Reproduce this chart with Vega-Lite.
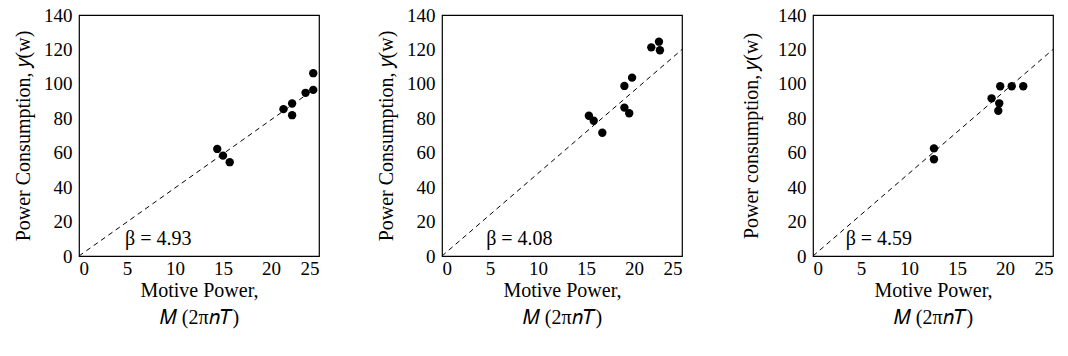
{
  "$schema": "https://vega.github.io/schema/vega-lite/v6.json",
  "padding": {"left": 12, "top": 5, "right": 5, "bottom": 5},
  "background": "white",
  "spacing": 55,
  "config": {
    "font": "'Liberation Serif', serif",
    "view": {"stroke": "black", "strokeWidth": 1.2},
    "text": {"font": "'Liberation Serif', serif"},
    "axis": {
      "grid": false, "ticks": false, "domain": false,
      "labelFontSize": 19, "labelColor": "black", "labelFont": "'Liberation Serif', serif",
      "titleFontSize": 20, "titleFontWeight": "normal", "titleColor": "black", "titleFont": "'Liberation Serif', serif"
    },
    "axisX": {"labelPadding": 3, "titlePadding": 2, "titleLineHeight": 27},
    "axisY": {"labelPadding": 7, "titlePadding": 10}
  },
  "datasets": {
    "p1": [
      {"M": 14.4, "y": 62.2}, {"M": 15.0, "y": 58.3}, {"M": 15.7, "y": 54.5},
      {"M": 21.3, "y": 85.3}, {"M": 22.2, "y": 88.6}, {"M": 22.2, "y": 81.8},
      {"M": 23.6, "y": 94.8}, {"M": 24.4, "y": 96.5}, {"M": 24.4, "y": 106.2}
    ],
    "p2": [
      {"M": 15.3, "y": 81.5}, {"M": 15.8, "y": 78.6}, {"M": 16.7, "y": 71.6},
      {"M": 19.0, "y": 98.8}, {"M": 19.0, "y": 86.2}, {"M": 19.5, "y": 82.9},
      {"M": 19.8, "y": 103.6}, {"M": 21.8, "y": 121.2}, {"M": 22.6, "y": 124.5},
      {"M": 22.7, "y": 119.5}
    ],
    "p3": [
      {"M": 12.6, "y": 62.5}, {"M": 12.6, "y": 56.2}, {"M": 18.6, "y": 91.6},
      {"M": 19.4, "y": 88.7}, {"M": 19.3, "y": 84.4}, {"M": 19.5, "y": 98.6},
      {"M": 20.7, "y": 98.6}, {"M": 21.9, "y": 98.6}
    ],
    "l1": [{"M": 0, "y": 0}, {"M": 24.4, "y": 96.5}],
    "l2": [{"M": 0, "y": 0}, {"M": 25, "y": 120}],
    "l3": [{"M": 0, "y": 0}, {"M": 25, "y": 120}],
    "t1": [{"M": 4.8, "y": 10, "label": "β = 4.93"}],
    "t2": [{"M": 4.6, "y": 10, "label": "β = 4.08"}],
    "t3": [{"M": 3.4, "y": 10, "label": "β = 4.59"}]
  },
  "hconcat": [
    {
      "width": 240, "height": 241,
      "encoding": {
        "x": {"field": "M", "type": "quantitative", "scale": {"domain": [0, 25], "nice": false}, "axis": {"values": [0, 5, 10, 15, 20, 25], "title": ["Motive Power,", "𝑀 (2π𝑛𝑇)"]}},
        "y": {"field": "y", "type": "quantitative", "scale": {"domain": [0, 140], "nice": false}, "axis": {"values": [0, 20, 40, 60, 80, 100, 120, 140], "title": "Power Consumption, 𝑦(w)"}}
      },
      "layer": [
        {"data": {"name": "l1"}, "mark": {"type": "line", "color": "black", "strokeWidth": 1, "strokeDash": [5, 4]}},
        {"data": {"name": "p1"}, "mark": {"type": "circle", "color": "black", "size": 70, "opacity": 1}},
        {"data": {"name": "t1"}, "mark": {"type": "text", "align": "left", "baseline": "middle", "fontSize": 20, "color": "black"}, "encoding": {"text": {"field": "label"}}}
      ]
    },
    {
      "width": 240, "height": 241,
      "encoding": {
        "x": {"field": "M", "type": "quantitative", "scale": {"domain": [0, 25], "nice": false}, "axis": {"values": [0, 5, 10, 15, 20, 25], "title": ["Motive Power,", "𝑀 (2π𝑛𝑇)"]}},
        "y": {"field": "y", "type": "quantitative", "scale": {"domain": [0, 140], "nice": false}, "axis": {"values": [0, 20, 40, 60, 80, 100, 120, 140], "title": "Power Consumption, 𝑦(w)"}}
      },
      "layer": [
        {"data": {"name": "l2"}, "mark": {"type": "line", "color": "black", "strokeWidth": 1, "strokeDash": [5, 4]}},
        {"data": {"name": "p2"}, "mark": {"type": "circle", "color": "black", "size": 70, "opacity": 1}},
        {"data": {"name": "t2"}, "mark": {"type": "text", "align": "left", "baseline": "middle", "fontSize": 20, "color": "black"}, "encoding": {"text": {"field": "label"}}}
      ]
    },
    {
      "width": 240, "height": 241,
      "encoding": {
        "x": {"field": "M", "type": "quantitative", "scale": {"domain": [0, 25], "nice": false}, "axis": {"values": [0, 5, 10, 15, 20, 25], "title": ["Motive Power,", "𝑀 (2π𝑛𝑇)"]}},
        "y": {"field": "y", "type": "quantitative", "scale": {"domain": [0, 140], "nice": false}, "axis": {"values": [0, 20, 40, 60, 80, 100, 120, 140], "title": "Power consumption, 𝑦(w)", "titlePadding": 16}}
      },
      "layer": [
        {"data": {"name": "l3"}, "mark": {"type": "line", "color": "black", "strokeWidth": 1, "strokeDash": [5, 4]}},
        {"data": {"name": "p3"}, "mark": {"type": "circle", "color": "black", "size": 70, "opacity": 1}},
        {"data": {"name": "t3"}, "mark": {"type": "text", "align": "left", "baseline": "middle", "fontSize": 20, "color": "black"}, "encoding": {"text": {"field": "label"}}}
      ]
    }
  ]
}
